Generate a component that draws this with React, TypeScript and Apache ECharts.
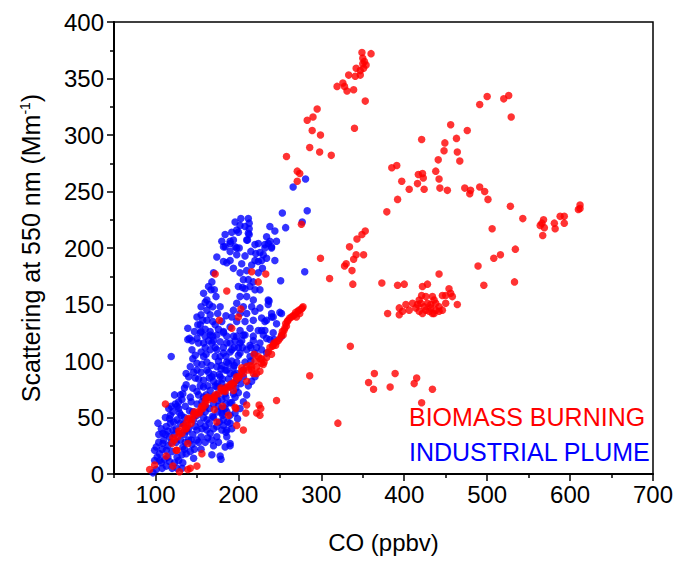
import React, { useEffect, useRef } from "react";
import * as echarts from "echarts";

const xMajorTicks = [100, 200, 300, 400, 500, 600, 700];
const xMinorTicks = [50, 150, 250, 350, 450, 550, 650];
const yTicks = [0, 50, 100, 150, 200, 250, 300, 350, 400];

const biomassBurning: number[][] = [
  [349,373],[360,372],[350,368],[352,365],[350,363],[354,362],[342,359],[351,359],[347,357],[333,353],[341,352],[347,353],[326,346],[319,343],[328,343],[331,339],[339,340],[353,330],[295,323],[290,316],[283,313],[289,304],[299,300],[340,306],[286,289],[298,285],[312,282],[258,281],[271,268],[274,266],[271,259],[276,221],
  [385,271],[391,273],[392,243],[379,232],[334,201],[343,208],[349,212],[353,215],
  [491,327],[500,334],[520,332],[526,335],[529,316],[456,309],[476,304],[421,296],[449,293],[463,297],[448,286],[464,285],[441,278],[467,277],[438,268],[417,265],[422,266],[423,262],[442,261],[397,259],[416,257],[406,252],[424,252],[443,253],[452,251],[473,253],[480,251],[479,248],[491,254],[497,250],[501,243],[528,237],[543,226],[506,217],[566,222],[568,225],[564,220],[569,218],[567,211],[581,222],[582,217],[588,228],[593,228],[593,222],[610,234],[612,238],[612,235],[534,199],
  [342,194],[339,190],[351,194],[330,186],[328,184],[337,180],[310,173],[338,168],[373,169],[392,167],[400,168],[442,177],[489,184],[508,191],[516,194],[496,167],[533,170],[299,191],
  [422,166],[428,168],[421,158],[418,154],[426,157],[434,157],[436,154],[446,158],[454,164],[456,160],[458,157],[450,151],[464,150],[442,148],[438,145],[434,142],[430,144],[426,145],[422,142],[418,144],[414,147],[410,151],[406,145],[402,150],[398,144],[394,141],[394,147],[380,142],[442,144],[446,145],[432,150],[428,151],[424,148],[438,151],[420,151],[432,147],[436,142],[416,150],[450,158],
  [335,113],[286,87],[364,89],[389,89],[357,81],[363,75],[383,77],[415,85],[412,80],[434,75],[421,63],[320,45],
  [172,177],[216,179],[233,177],[224,170],[186,162],[203,146],[200,139],[177,136],[192,129],
  [277,147],[273,145],[269,143],[266,140],[262,138],[259,135],[256,129],[253,126],[252,123],[245,114],[241,113],[240,106],[270,139],[274,142],[254,123],[242,114],
  [248,118],[250,120],[258,131],[260,136],[264,139],[268,141],[272,144],[276,146],[278,148],[243,116],[246,117],[255,127],[257,133],
  [219,106],[226,102],[231,99],[230,97],[222,95],[216,92],[210,95],[204,94],[198,86],[210,82],[222,89],
  [200,85],[204,91],[216,95],[228,98],[226,91],[218,89],[224,104],
  [194,79],[188,77],[182,74],[176,71],[170,68],[164,66],[160,64],[156,60],[152,55],[148,52],[144,48],[139,43],[136,40],[132,36],[127,33],[123,30],[120,27],
  [121,32],[129,36],[133,42],[137,45],[142,49],[155,58],[160,61],[168,67],[172,70],[180,74],[186,77],[190,79],[194,74],
  [128,38],[137,40],[146,53],[153,54],[163,68],[171,66],[179,76],[184,73],
  [192,80],[196,82],[201,86],[206,89],[212,92],[214,96],[220,100],[228,102],[234,103],[236,108],[238,112],[143,45],[147,55],[161,67],[157,58],
  [171,57],[174,46],[139,49],[139,27],[126,21],[112,62],[113,16],[121,7],[129,2],[139,4],[150,7],[93,4],[99,8],[156,18],[196,59],[210,61],[209,54],[225,61],[227,58],[222,54],[226,52],[198,43],[206,39],[246,65],[188,52],[181,60],[197,58],[142,5],[125,21]
];

const industrialPlume: number[][] = [
  [281,261],[266,254],[283,233],[253,231],[257,218],[277,223],
  [196,223],[203,226],[212,226],[213,222],[202,220],[213,217],[198,216],[192,214],[184,212],[213,212],[210,207],[180,206],[190,206],[184,201],[196,201],[201,200],[238,219],[244,215],[234,210],[224,204],[238,206],[246,206],[232,203],[240,201],[220,203],
  [208,219],[212,213],[200,214],[194,207],[190,204],[182,201],[198,200],[190,197],[174,192],[198,194],[182,188],[190,189],[186,187],[194,182],[211,207],[236,204],[232,200],[240,200],[221,195],[230,194],[228,189],[220,189],[224,188],[244,189],[234,191],[251,171],
  [168,170],[167,163],[162,154],[155,148],[162,145],[169,148],[178,148],[175,142],[166,141],[155,141],[150,139],[162,136],[169,135],[154,132],[139,129],[155,126],[166,126],[169,122],[150,120],[141,120],
  [202,178],[206,172],[200,166],[208,164],[214,166],[220,163],[226,163],[202,157],[210,157],[218,154],[198,151],[206,148],[216,148],[194,145],[202,142],[210,142],[220,144],[226,147],[236,154],[236,150],[192,139],[198,135],[208,135],[218,136],[228,138],[234,136],[240,139],[252,142],[246,133],[190,130],[202,127],[214,129],[224,127],[232,127],[182,126],[186,122],[198,122],[208,123],[242,125],[252,122],[174,123],[160,122],
  [154,125],[166,123],[182,125],[194,122],[206,123],[218,122],[230,123],[139,119],[152,116],[168,116],[178,117],[190,116],[202,116],[214,114],[226,116],[238,119],
  [119,104],[144,110],[145,102],[166,110],[172,104],[162,99],[182,107],[190,108],[202,107],[186,99],[198,99],[208,99],[142,95],[137,89],[150,92],[162,92],[168,86],[184,92],[194,94],[178,86],[158,83],[137,79],[145,76],[133,71],[142,68],[132,66],[126,60],[136,60],[121,55],[129,54],[103,45],[117,49],[126,48],[113,42],[121,39],[109,36],[117,33],[101,24],[109,27],[105,18],[113,21],[99,12],[107,10],[101,4],[117,11],[126,15],[133,10],[126,5],[150,30],[144,26],[133,24],[137,18],[150,39],[154,45],[162,39],[155,33],[166,36],[174,33],[180,39],[174,42],[186,33],[190,27],[178,16],[168,30],[162,48],[169,51],[182,48],[186,55],[190,45],[186,39],[199,49],[176,60],[168,68],[180,66],[190,63],[160,60],[150,52],[158,68],[150,73],[166,74],[158,77],[174,77],[184,71],[190,77],[194,71],[198,83],[190,89],[174,95],[198,89],[206,92],[206,86],[214,104],[220,107],[228,110],[234,107],
  [97,1],[99,21],[105,12],[113,7],[123,10],[132,5],[168,17],[185,37],[182,43],[180,54],[190,52],[192,63],[196,68],[194,80],[240,142],[232,135],[228,127],[234,120],[243,119],[237,153],[280,179],[242,139],[250,143],[179,13],[190,25],
  [110,30],[115,25],[120,20],[125,28],[130,30],[135,35],[140,30],[145,35],[140,40],[135,50],[130,45],[125,40],[145,55],[150,62],[155,55],[160,55],[165,58],[170,62],[175,65],[170,50],[165,45],[160,42],[175,55],[180,58],[185,62],[185,68],[175,80],[170,82],[165,85],[155,90],[150,98],[148,105],[155,108],[160,112],[172,112],[176,100],[180,96],[185,104],[195,112],[205,112],[210,110],[215,100],[200,105],[195,88],[188,84],[180,80],[118,45],[112,35],[108,22],[104,28],[115,15],[120,5],[128,12],[135,22],[142,20],[146,14],[155,22],[160,28],[170,25],[176,28],[184,24],
  [115,38],[118,52],[122,46],[124,62],[128,58],[131,52],[134,44],[138,38],[141,56],[143,64],[146,48],[148,42],[152,70],[154,78],[156,64],[158,50],[161,70],[163,78],[164,90],[167,96],[170,88],[172,78],[174,70],[177,88],[179,93],[181,84],[183,76],[186,92],[188,98],[192,100],[195,96],[197,76],[200,72],[203,80],[148,85],[152,84],[156,97],[158,104],[161,106],[164,118],[170,118],[174,110],[178,104],[182,112],[186,116],[192,110],[196,118],[200,112],[204,118],[144,118],[147,126],[151,132],[157,136],[160,128],[158,116],[146,90],[140,86],[135,76],[130,70],[128,64],[123,70],[119,60],[116,58],[112,50],[107,40],[104,35],[102,15],[108,5],[111,13],[119,28],[123,35],[132,17],[136,28],[143,30],[147,22],[152,28],[156,40],[163,32],[170,40],[177,46],[181,52],[184,58],[187,46],[192,40],[196,54],[202,58],[206,64],[210,70],[212,78],[216,82],[220,86],[215,112],[218,118],[222,112],[172,132],[176,128],[180,135],[185,140],[205,165],[212,172],[218,170],[224,178],[229,182],[226,196],[215,197],[208,193],[204,186],[210,180],[216,185],[173,157],[171,163],[165,150],[160,152],[158,160],[164,166],[170,178]
];

const FONT = "Arial, 'Liberation Sans', Helvetica, sans-serif";

export default function App() {
  const ref = useRef<HTMLDivElement>(null);
  useEffect(() => {
    if (!ref.current) return;
    const chart = echarts.init(ref.current, null, { renderer: "svg" });
    const grid = { left: 114, right: 37, top: 22, bottom: 94, show: true, borderColor: "#000", borderWidth: 1.5, outerBoundsMode: "none" };
    chart.setOption({
      animation: false,
      backgroundColor: "#fff",
      textStyle: { fontFamily: FONT },
      grid,
      xAxis: [
        {
          type: "value", min: 50, max: 700, interval: 50,
          name: "CO (ppbv)", nameLocation: "middle", nameGap: 56,
          nameTextStyle: { fontSize: 24, color: "#000", fontFamily: FONT },
          axisLine: { show: true, lineStyle: { color: "#000", width: 2 } },
          axisTick: { show: true, customValues: xMajorTicks, length: 7, lineStyle: { color: "#000", width: 1.5 } },
          axisLabel: { show: true, customValues: xMajorTicks, fontSize: 24, color: "#000", margin: 8, fontFamily: FONT },
          splitLine: { show: false },
        },
        {
          type: "value", min: 50, max: 700, interval: 50, position: "bottom",
          axisLine: { show: false },
          axisTick: { show: true, customValues: xMinorTicks, length: 4, lineStyle: { color: "#000", width: 1.5 } },
          axisLabel: { show: false },
          splitLine: { show: false },
        },
      ],
      yAxis: {
        type: "value", min: 0, max: 400, interval: 50,
        name: "Scattering at 550 nm (Mm{sup|-1})", nameLocation: "middle", nameGap: 71,
        nameTextStyle: { fontSize: 25, color: "#000", fontFamily: FONT, rich: { sup: { fontSize: 14, verticalAlign: "top", color: "#000", fontFamily: FONT } } },
        axisLine: { show: true, lineStyle: { color: "#000", width: 2 } },
        axisTick: { show: true, length: 7, lineStyle: { color: "#000", width: 1.5 } },
        minorTick: { show: true, splitNumber: 2, length: 4, lineStyle: { color: "#000", width: 1.5 } },
        axisLabel: { fontSize: 24, color: "#000", margin: 10, fontFamily: FONT, customValues: yTicks },
        splitLine: { show: false },
      },
      series: [
        { name: "INDUSTRIAL PLUME", type: "scatter", data: industrialPlume, symbolSize: 7.5, itemStyle: { color: "#0000ff" } },
        { name: "BIOMASS BURNING", type: "scatter", data: biomassBurning, symbolSize: 7.5, itemStyle: { color: "#ff0000" } },
      ],
      graphic: [
        { type: "text", left: 409, top: 404, style: { text: "BIOMASS BURNING", fill: "#ff0000", font: `25px ${FONT}` } },
        { type: "text", left: 409, top: 439, style: { text: "INDUSTRIAL PLUME", fill: "#0000ff", font: `25px ${FONT}` } },
      ],
    });
    return () => chart.dispose();
  }, []);
  return <div ref={ref} style={{ position: "fixed", left: 0, top: 0, width: 690, height: 568 }} />;
}
